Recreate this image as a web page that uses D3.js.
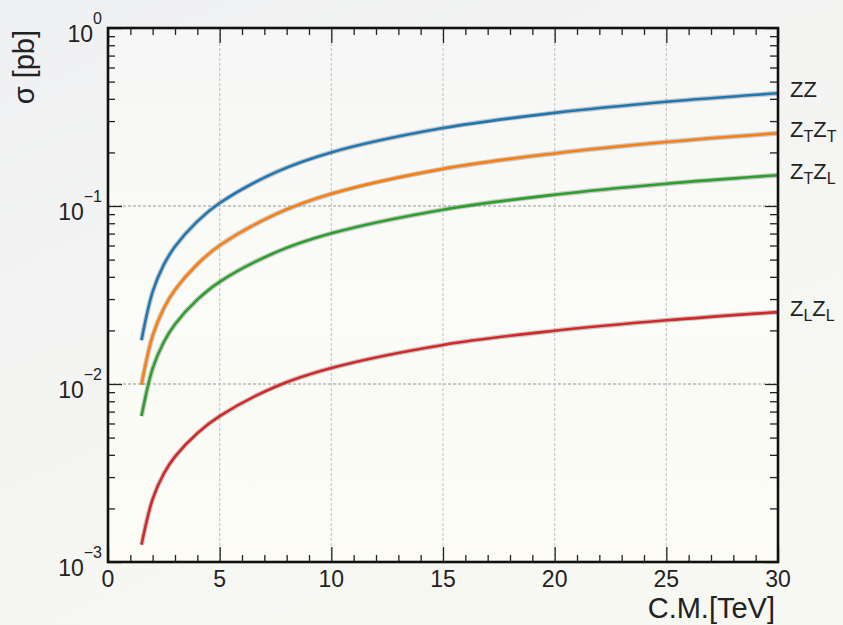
<!DOCTYPE html>
<html>
<head>
<meta charset="utf-8">
<title>ZZ cross sections</title>
<script src="https://cdn.jsdelivr.net/npm/d3@7"></script>
<style>
body { margin: 0; background: #f2f3f3; }
svg { display: block; font-family: "Liberation Sans", Arial, sans-serif; }
</style>
</head>
<body>
<svg id="chart" width="843" height="625"></svg>
<script>
// values (pb), x = C.M. energy in TeV
const energy    = [1.5, 2, 2.5, 3, 4, 5, 7.5, 10, 15, 20, 25, 30];
const sigmaZZ   = [0.0176, 0.0330, 0.0468, 0.0592, 0.0820, 0.1039, 0.1545, 0.200, 0.274, 0.3335, 0.385, 0.430];
const sigmaZTZT = [0.0099, 0.01868, 0.02663, 0.0338, 0.04707, 0.05995, 0.08976, 0.1170, 0.1617, 0.1974, 0.2287, 0.2563];
const sigmaZTZL = [0.0066, 0.01224, 0.01722, 0.02167, 0.02977, 0.03751, 0.05485, 0.0702, 0.09535, 0.1157, 0.1334, 0.1490];
const sigmaZLZL = [0.00125, 0.00226, 0.003136, 0.003907, 0.005289, 0.006598, 0.009656, 0.0123, 0.01658, 0.01991, 0.02279, 0.02533];

const seriesValues = [sigmaZZ, sigmaZTZT, sigmaZTZL, sigmaZLZL];
const seriesColors = ["#1f77b4", "#ff7f0e", "#2ca02c", "#d62728"];
const labelSubs    = [["", ""], ["T", "T"], ["T", "L"], ["L", "L"]];

const xTicks     = [0, 5, 10, 15, 20, 25, 30];
const xGrid      = [5, 10, 15, 20, 25];
const yTicks     = [1e-3, 1e-2, 1e-1, 1];
const yExponents = ["-3", "-2", "-1", "0"];
const yGrid      = [1e-2, 1e-1];

const svg = d3.select("#chart");
const W = 843, H = 625;
const LEFT = 108, RIGHT = 778, TOP = 28, BOTTOM = 562;

const xScale = d3.scaleLinear().domain([0, 30]).range([LEFT, RIGHT]);
const yScale = d3.scaleLog().domain([1e-3, 1]).range([BOTTOM, TOP]);

// background
const defs = svg.append("defs");
const bg = defs.append("linearGradient").attr("id", "bg")
    .attr("x1", 0).attr("y1", 0).attr("x2", 0.6).attr("y2", 1);
bg.append("stop").attr("offset", 0).attr("stop-color", "#eff0f2");
bg.append("stop").attr("offset", 1).attr("stop-color", "#f8f8f2");
svg.append("rect").attr("width", W).attr("height", H).attr("fill", "url(#bg)");

const pg = defs.append("linearGradient").attr("id", "plotbg")
    .attr("x1", 0).attr("y1", 0).attr("x2", 0).attr("y2", 1);
pg.append("stop").attr("offset", 0).attr("stop-color", "#f6f6f6");
pg.append("stop").attr("offset", 0.5).attr("stop-color", "#fbfbf7");
pg.append("stop").attr("offset", 1).attr("stop-color", "#fcfcf5");
svg.append("rect")
   .attr("x", LEFT).attr("y", TOP)
   .attr("width", RIGHT - LEFT).attr("height", BOTTOM - TOP)
   .attr("fill", "url(#plotbg)");

// grid
svg.append("g").selectAll("line").data(xGrid).enter().append("line")
   .attr("x1", d => xScale(d)).attr("x2", d => xScale(d))
   .attr("y1", TOP).attr("y2", BOTTOM)
   .attr("stroke", "#c8c8c8").attr("stroke-width", 1.2)
   .attr("stroke-dasharray", "3,2");
svg.append("g").selectAll("line").data(yGrid).enter().append("line")
   .attr("x1", LEFT).attr("x2", RIGHT)
   .attr("y1", d => yScale(d)).attr("y2", d => yScale(d))
   .attr("stroke", "#c8c8c8").attr("stroke-width", 2)
   .attr("stroke-dasharray", "3,2");

// curves
const line = d3.line()
    .x((d, i) => xScale(energy[i]))
    .y(d => yScale(d))
    .curve(d3.curveCatmullRom.alpha(0.5));

seriesValues.forEach((vals, k) => {
    svg.append("path").datum(vals)
       .attr("d", line).attr("fill", "none")
       .attr("stroke", "#8a8a8a").attr("stroke-opacity", 0.45)
       .attr("stroke-width", 5);
    svg.append("path").datum(vals)
       .attr("d", line).attr("fill", "none")
       .attr("stroke", seriesColors[k])
       .attr("stroke-width", 2.6);
});

// axes ticks (inward)
function tickAxis(axis, tx, ty) {
    const g = svg.append("g").attr("transform", `translate(${tx},${ty})`).call(axis);
    g.select(".domain").remove();
    g.selectAll(".tick line").attr("stroke", "#222").attr("stroke-width", 1.3);
    return g;
}
const xMinor = d3.range(0, 31).filter(v => v % 5 !== 0);
const yMinor = [];
[1e-3, 1e-2, 1e-1].forEach(dec => d3.range(2, 10).forEach(m => yMinor.push(dec * m)));

tickAxis(d3.axisBottom(xScale).tickValues(xTicks).tickSize(-15).tickFormat(""), 0, BOTTOM);
tickAxis(d3.axisBottom(xScale).tickValues(xMinor).tickSize(-7).tickFormat(""), 0, BOTTOM);
tickAxis(d3.axisTop(xScale).tickValues(xTicks).tickSize(-15).tickFormat(""), 0, TOP);
tickAxis(d3.axisTop(xScale).tickValues(xMinor).tickSize(-7).tickFormat(""), 0, TOP);
tickAxis(d3.axisLeft(yScale).tickValues(yTicks).tickSize(-14).tickFormat(""), LEFT, 0);
tickAxis(d3.axisLeft(yScale).tickValues(yMinor).tickSize(-7).tickFormat(""), LEFT, 0);
tickAxis(d3.axisRight(yScale).tickValues(yTicks).tickSize(-13).tickFormat(""), RIGHT, 0);
tickAxis(d3.axisRight(yScale).tickValues(yMinor).tickSize(-8).tickFormat(""), RIGHT, 0);

// frame
svg.append("rect")
   .attr("x", LEFT).attr("y", TOP)
   .attr("width", RIGHT - LEFT).attr("height", BOTTOM - TOP)
   .attr("fill", "none").attr("stroke", "#111").attr("stroke-width", 2.6);

// x tick labels
svg.append("g").selectAll("text").data(xTicks).enter().append("text")
   .attr("x", d => xScale(d)).attr("y", BOTTOM + 25)
   .attr("text-anchor", "middle").attr("font-size", 23).attr("fill", "#222")
   .text(d => d);

// y tick labels 10^n
const yLab = svg.append("g").selectAll("text").data(yTicks).enter().append("text")
   .attr("x", 102).attr("y", d => yScale(d) + 14)
   .attr("text-anchor", "end").attr("font-size", 23).attr("fill", "#222");
yLab.append("tspan").text("10");
yLab.append("tspan").attr("dy", -18).attr("font-size", 16)
    .text((d, i) => yExponents[i].replace("-", "\u2212"));

// axis titles
svg.append("text")
   .attr("x", 775).attr("y", 618)
   .attr("text-anchor", "end").attr("font-size", 29).attr("fill", "#222")
   .text("C.M.[TeV]");
svg.append("text")
   .attr("transform", "translate(34,30) rotate(-90)")
   .attr("text-anchor", "end").attr("font-size", 29).attr("fill", "#222")
   .text("\u03c3 [pb]");

// curve labels on the right
seriesValues.forEach((vals, k) => {
    const t = svg.append("text")
       .attr("x", 790).attr("y", yScale(vals[vals.length - 1]) + 4)
       .attr("font-size", 22).attr("fill", "#222");
    t.append("tspan").text("Z");
    t.append("tspan").attr("dy", 5).attr("font-size", 16).text(labelSubs[k][0]);
    t.append("tspan").attr("dy", labelSubs[k][0] ? -5 : 0).attr("font-size", 22).text("Z");
    t.append("tspan").attr("dy", 5).attr("font-size", 16).text(labelSubs[k][1]);
});
</script>
</body>
</html>
